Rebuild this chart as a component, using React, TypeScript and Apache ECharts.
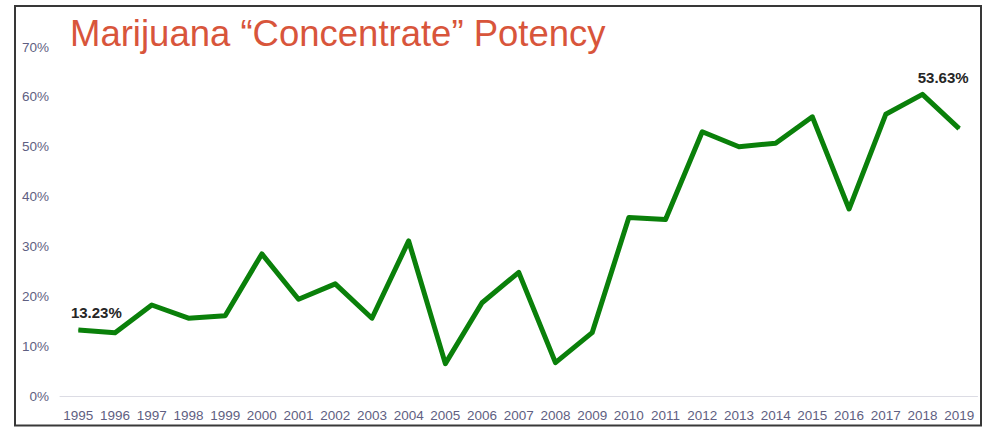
import React, { useEffect, useRef } from "react";
import * as echarts from "echarts";

const years = ["1995","1996","1997","1998","1999","2000","2001","2002","2003","2004","2005","2006","2007","2008","2009","2010","2011","2012","2013","2014","2015","2016","2017","2018","2019"];
const potency = [13.23,12.7,18.25,15.6,16.1,28.5,19.4,22.5,15.6,31.1,6.5,18.7,24.8,6.7,12.7,35.8,35.4,53.0,50.0,50.7,56.0,37.5,56.5,60.5,53.63];
const yTicks = { min: 0, max: 70, interval: 10 };
const titleText = "Marijuana \u201CConcentrate\u201D Potency";

const arial = "'Liberation Sans', Arial, sans-serif";

export default function App() {
  const ref = useRef<HTMLDivElement>(null);
  useEffect(() => {
    document.body.style.margin = "0";
    const chart = echarts.init(ref.current!, null, { renderer: "svg" });
    const last = potency.length - 1;
    const data = potency.map((v, i) => {
      if (i === 0) {
        return { value: v, label: { show: true, position: "top", distance: 0, offset: [18, -10] } };
      }
      if (i === last) {
        return { value: v, label: { show: true, position: "top", distance: 0, offset: [-16, -43] } };
      }
      return v;
    });
    chart.setOption({
      animation: false,
      backgroundColor: "#ffffff",
      title: {
        text: titleText,
        left: 70,
        top: 15,
        padding: 0,
        textStyle: { fontFamily: arial, fontSize: 36.5, fontWeight: "normal", color: "#d8553b" },
      },
      graphic: [
        {
          type: "rect",
          shape: { x: 15, y: 6, width: 966, height: 419.5 },
          style: { fill: "none", stroke: "#383838", lineWidth: 2 },
          z: 100,
        },
      ],
      grid: { left: 60, right: 14.5, top: 47, bottom: 31, containLabel: false },
      xAxis: {
        type: "category",
        data: years,
        boundaryGap: true,
        axisLine: { show: true, lineStyle: { color: "#dcdce4", width: 1 } },
        axisTick: { show: false },
        axisLabel: { margin: 12, fontFamily: arial, fontSize: 13.5, color: "#5f5f82", interval: 0 },
        splitLine: { show: false },
      },
      yAxis: {
        type: "value",
        min: yTicks.min,
        max: yTicks.max,
        interval: yTicks.interval,
        axisLine: { show: false },
        axisTick: { show: false },
        splitLine: { show: false },
        axisLabel: {
          margin: 11,
          fontFamily: arial,
          fontSize: 13.5,
          color: "#5f5f82",
          formatter: (v: number) => `${v}%`,
        },
      },
      series: [
        {
          type: "line",
          data,
          showSymbol: true,
          symbol: "circle",
          symbolSize: 1,
          itemStyle: { color: "#0a800a" },
          lineStyle: { color: "#0a800a", width: 5, join: "round" },
          label: {
            show: false,
            fontFamily: arial,
            fontSize: 15,
            fontWeight: "bold",
            color: "#262626",
            formatter: (p: any) => `${p.value.toFixed(2)}%`,
          },
          emphasis: { disabled: true },
        },
      ],
    });
    return () => chart.dispose();
  }, []);
  return <div ref={ref} style={{ width: 992, height: 427 }} />;
}
